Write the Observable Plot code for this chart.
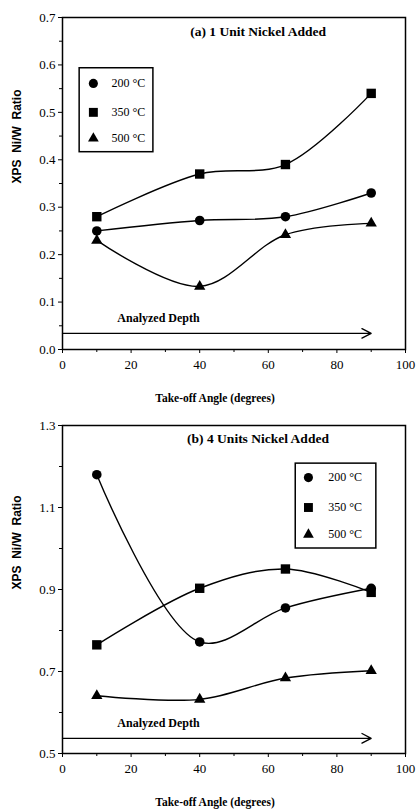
<!DOCTYPE html>
<html>
<head>
<meta charset="utf-8">
<script src="https://cdn.jsdelivr.net/npm/d3@7"></script>
<script src="https://cdn.jsdelivr.net/npm/@observablehq/plot@0.6"></script>
<style>
  html, body { margin: 0; padding: 0; background: #fff; }
  #chart svg { display: block; }
</style>
</head>
<body>
<div id="chart"></div>
<script>
// Take-off angles (degrees)
const angles = [10, 40, 65, 90];
const seriesNames = ["200 °C", "350 °C", "500 °C"];
const symbols = ["circle", "square", "triangle"];
const symbolR = [4.8, 5.3, 4.2];

// (a) 1 Unit Nickel Added
const a200 = [0.25, 0.272, 0.28, 0.33];
const a350 = [0.28, 0.37, 0.39, 0.54];
const a500 = [0.23, 0.133, 0.242, 0.266];

// (b) 4 Units Nickel Added
const b200 = [1.18, 0.772, 0.855, 0.903];
const b350 = [0.765, 0.903, 0.95, 0.893];
const b500 = [0.641, 0.632, 0.684, 0.702];

const xTicks = [0, 20, 40, 60, 80, 100];
const xMinor = [10, 30, 50, 70, 90];
const aYTicks = [0, 0.1, 0.2, 0.3, 0.4, 0.5, 0.6, 0.7];
const aYMinor = [0.05, 0.15, 0.25, 0.35, 0.45, 0.55, 0.65];
const bYTicks = [0.5, 0.7, 0.9, 1.1, 1.3];
const bYMinor = [0.6, 0.8, 1.0, 1.2];

const titles = ["(a) 1 Unit Nickel Added", "(b) 4 Units Nickel Added"];
const xLabel = "Take-off Angle (degrees)";
const yLabel = "XPS  Ni/W  Ratio";
const depthLabel = "Analyzed Depth";

function toRows(vals) {
  const rows = [];
  vals.forEach((arr, si) => arr.forEach((v, i) => rows.push({angle: angles[i], value: v, series: seriesNames[si], symbol: symbols[si], r: symbolR[si]})));
  return rows;
}

function panel(cfg) {
  const rows = toRows(cfg.values);
  const legendRows = seriesNames.map((s, i) => ({series: s, symbol: symbols[i], r: symbolR[i] * 0.95, y: cfg.legend.rows[i]}));
  return Plot.plot({
    width: 416,
    height: 406,
    marginLeft: 62,
    marginRight: 11,
    marginTop: cfg.marginTop,
    marginBottom: cfg.marginBottom,
    style: {fontFamily: "'Liberation Serif', serif", fontSize: "13px", color: "#000", background: "#fff"},
    x: {domain: [0, 100]},
    y: {domain: cfg.yDomain},
    r: {type: "identity"},
    marks: [
      Plot.axisX({ticks: xTicks, tickSize: 4, tickPadding: 6, label: null, fontSize: 13}),
      Plot.axisX({ticks: xMinor, tickSize: 3, tickFormat: () => "", label: null}),
      Plot.axisY({ticks: cfg.yTicks, tickSize: 4, tickPadding: 3, tickFormat: d3.format(".1f"), label: null, fontSize: 13}),
      Plot.axisY({ticks: cfg.yMinor, tickSize: 3, tickFormat: () => "", label: null}),
      Plot.frame({stroke: "#000", strokeWidth: 1.5}),
      Plot.line(rows, {x: "angle", y: "value", z: "series", curve: "catmull-rom", stroke: "#000", strokeWidth: 1.4}),
      Plot.dot(rows, {x: "angle", y: "value", symbol: "symbol", r: "r", fill: "#000", stroke: "none"}),
      Plot.arrow([{x1: 0, x2: 90, y: cfg.arrowY}], {x1: "x1", x2: "x2", y1: "y", y2: "y", stroke: "#000", strokeWidth: 1.3, headLength: 12, headAngle: 55}),
      Plot.text([depthLabel], {x: 28, y: cfg.depthY, text: d => d, fontWeight: "bold", fontSize: 12}),
      Plot.text([cfg.title], {x: 57, y: cfg.titleY, text: d => d, fontWeight: "bold", fontSize: 13.5}),
      Plot.rect([cfg.legend], {x1: "x1", x2: "x2", y1: "y1", y2: "y2", fill: "#fff", stroke: "#000", strokeWidth: 1.5}),
      Plot.dot(legendRows, {x: cfg.legend.mx, y: "y", symbol: "symbol", r: "r", fill: "#000", stroke: "none"}),
      Plot.text(legendRows, {x: cfg.legend.tx, y: "y", text: "series", textAnchor: "start", fontSize: 12}),
      Plot.text([xLabel], {frameAnchor: "bottom", dy: 52, dx: -19, text: d => d, fontWeight: "bold", fontSize: 11.5}),
      Plot.text([yLabel], {frameAnchor: "left", dx: -45, rotate: -90, text: d => d, fontWeight: "bold", fontSize: 12, fontFamily: "'Liberation Sans', sans-serif"})
    ]
  });
}

const chart = document.getElementById("chart");
chart.append(panel({
  values: [a200, a350, a500],
  yDomain: [0, 0.7], yTicks: aYTicks, yMinor: aYMinor,
  marginTop: 17, marginBottom: 57,
  arrowY: 0.034, depthY: 0.067, title: titles[0], titleY: 0.67,
  legend: {x1: 5, x2: 26.5, y1: 0.416, y2: 0.593, mx: 9, tx: 14.3, rows: [0.561, 0.5, 0.445]}
}));
chart.append(panel({
  values: [b200, b350, b500],
  yDomain: [0.5, 1.3], yTicks: bYTicks, yMinor: bYMinor,
  marginTop: 19, marginBottom: 59,
  arrowY: 0.537, depthY: 0.575, title: titles[1], titleY: 1.268,
  legend: {x1: 68, x2: 91.5, y1: 1.0, y2: 1.207, mx: 71.7, tx: 77.5, rows: [1.173, 1.1, 1.034]}
}));
</script>
</body>
</html>
